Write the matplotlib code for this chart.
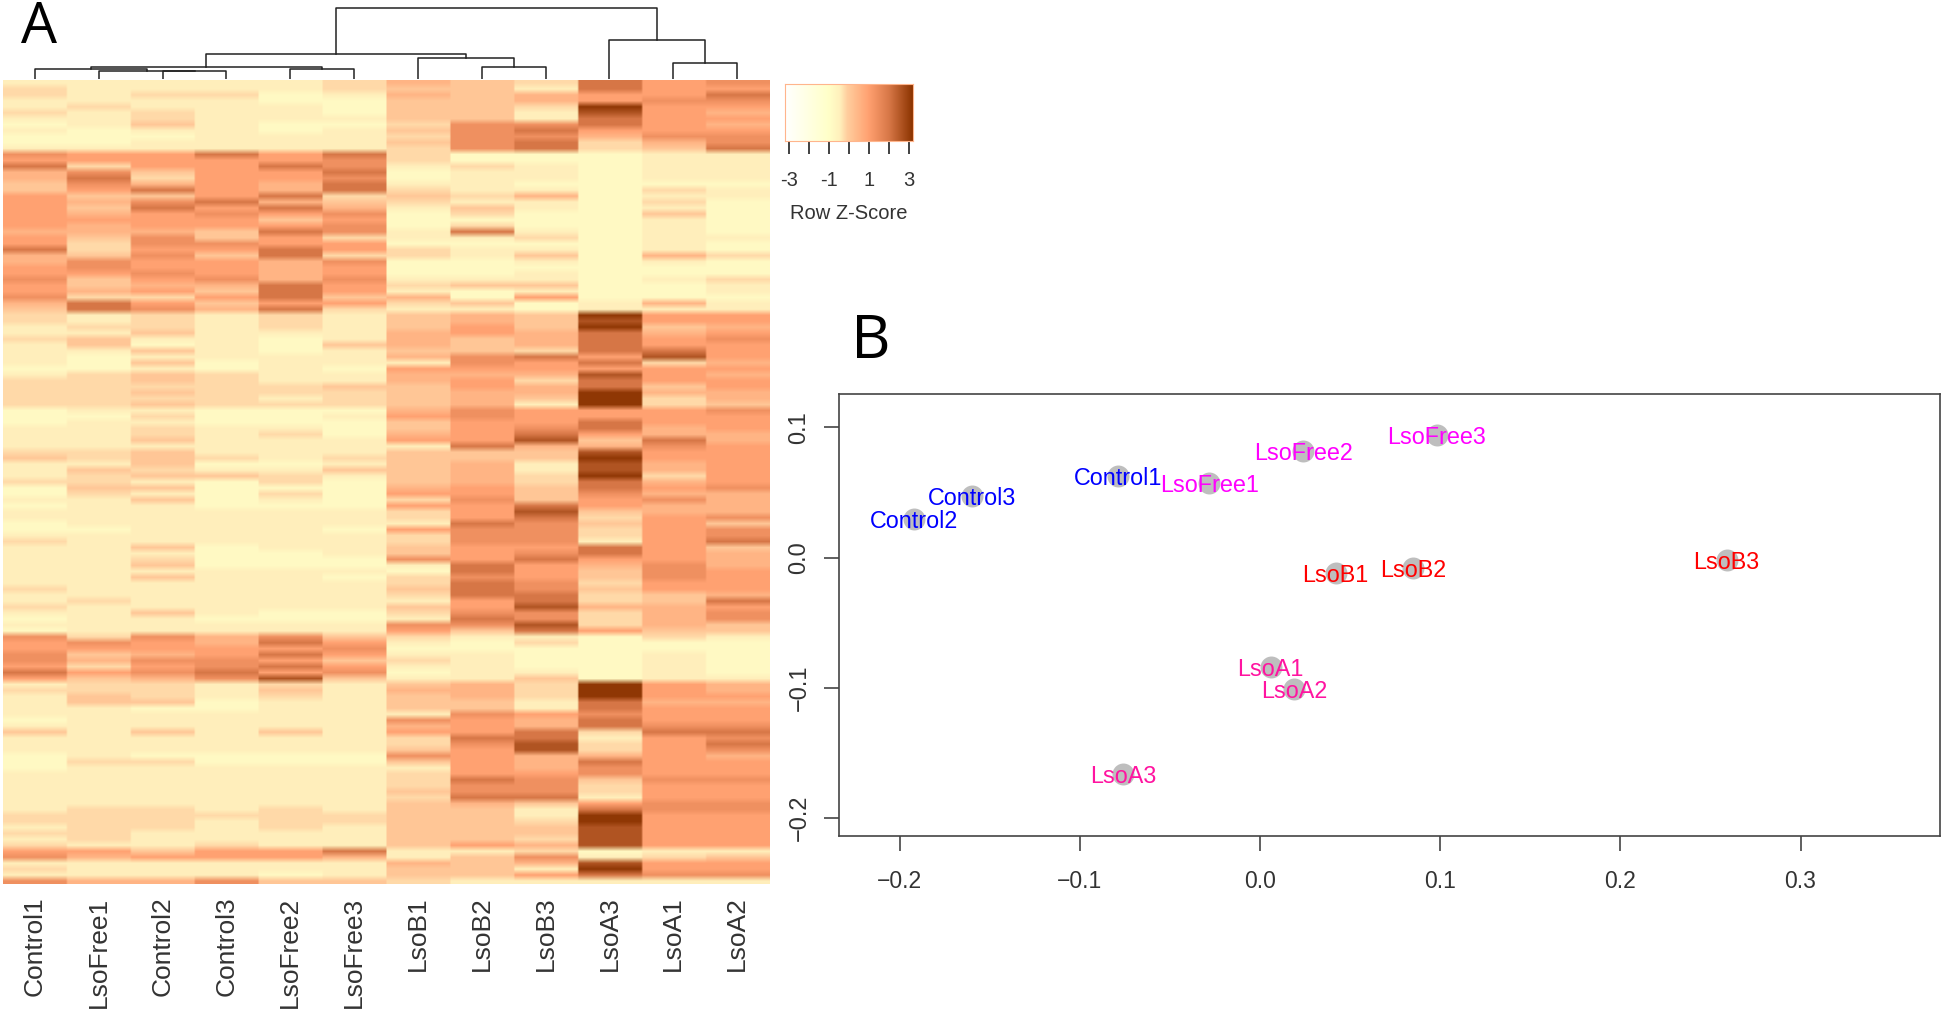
import numpy as np
import matplotlib
matplotlib.use('Agg')
import matplotlib.pyplot as plt
from matplotlib.colors import LinearSegmentedColormap

plt.rcParams['font.family'] = ['Liberation Sans', 'DejaVu Sans']

W, H = 1944, 1014

#heatmap columns, as they are ordered in the figure
samples = ['Control1', 'LsoFree1', 'Control2', 'Control3', 'LsoFree2', 'LsoFree3',
           'LsoB1', 'LsoB2', 'LsoB3', 'LsoA3', 'LsoA1', 'LsoA2']

#z-score for each shade, rows below give the shade per sample
shade_z = [-0.8, -0.45, -0.22, 0.08, 0.5, 0.95, 1.4, 2.0, 2.6, 3.1]
heat_rows = [
    '111112 432756', '211112 331755', '212201 434557', '111100 334566', '121110 332955',
    '212110 331854', '112111 331755', '013100 266754', '101101 367555', '000111 266466',
    '001111 367246', '111111 267237',
    '655757 200011', '555556 200011', '725576 121011', '463557 011011', '472556 011011',
    '364547 110000', '357547 211021', '533572 324011', '546743 211020', '537574 131010',
    '545656 020030', '555535 000010', '545556 020010', '444376 171010', '536352 112011',
    '526655 000010', '725575 211010', '436372 213042', '465546 001010', '565545 000000',
    '556545 001000', '635646 111012', '534475 233001', '545375 101001', '622573 405000',
    '475355 230141', '376472 110111',
    '212121 343955', '212121 343855', '122121 353934', '113111 454745', '231101 434756',
    '130103 434755', '113101 332775', '101111 467585', '103011 165724', '001010 555555',
    '123211 444854', '223211 452755', '222223 354735', '223222 344944', '222212 343924',
    '223222 341923', '011000 465556', '002001 565555', '011000 355755', '112110 356745',
    '112120 457544', '113111 558374', '111111 174465', '223111 333855', '323212 333955',
    '113001 341845', '132113 341845', '123321 342925', '221020 342745', '033000 453756',
    '021020 553644', '113010 263564', '011000 557544', '111111 258344', '111111 257256',
    '011111 176353', '001110 566256', '111111 266256', '211111 266157', '113011 355753',
    '111001 356754', '112000 657554',
    '113000 175464', '111111 075365', '113110 265365', '111111 276255', '211111 376355',
    '111111 277234', '121111 157237', '211111 358445', '113100 266246', '011000 176246',
    '111111 668243', '011111 537533',
    '626463 211021', '565475 102000', '555556 000000', '634575 110010', '646653 210010',
    '525675 110010', '756756 011010', '534683 113011',
    '122121 342954', '222131 442954', '132121 342955', '133011 331744', '110011 331755',
    '111111 165655', '011111 654755',
    '111111 454766', '313131 557277', '111111 277156', '111111 268257', '111111 358256',
    '010000 654454', '022000 354755', '011111 154655', '111111 255655', '111111 276366',
    '111111 266255', '111111 366255', '111111 277155', '111111 343566', '122121 331766',
    '222222 331955', '222122 332955', '122121 333855', '221111 333855', '121111 332855',
    '211211 354855',
    '553557 112011', '645554 136123', '111111 434855', '211111 331955', '111101 335766',
    '644633 211111',
]

#dendrogram, written like hclust: negative = column number, positive = earlier merge
merge_left = [-3, -2, -1, -5, 3, -8, -7, 5, -11, -10, 8]
merge_right = [-4, 1, 2, -6, 4, -9, 6, 7, -12, 9, 10]
merge_height = [7.7, 8.3, 10.0, 10.3, 12.3, 12.0, 21.0, 25.0, 16.0, 39.0, 71.0]
leaf_height = 0.5

#colour key
key_z = [-3.2, -1.0, -0.45, -0.1, 1.0, 2.0, 3.2]
key_colors = ['#FFFFFF', '#FFFFC8', '#FFF0BC', '#FFCF9F', '#FFA070', '#D87848', '#8B3300']
key_ticks = [-3, -2, -1, 0, 1, 2, 3]
key_labels = ['-3', '', '-1', '', '1', '', '3']

#MDS plot
mds_names = ['Control1', 'Control2', 'Control3', 'LsoFree1', 'LsoFree2', 'LsoFree3',
             'LsoB1', 'LsoB2', 'LsoB3', 'LsoA1', 'LsoA2', 'LsoA3']
mds_x = [-0.079, -0.192, -0.160, -0.028, 0.024, 0.098, 0.042, 0.085, 0.259, 0.006, 0.019, -0.076]
mds_y = [0.063, 0.030, 0.047, 0.057, 0.082, 0.094, -0.012, -0.008, -0.002, -0.084, -0.101, -0.166]
mds_colors = ['#0000FF'] * 3 + ['#FF00FF'] * 3 + ['#FF0000'] * 3 + ['#FF14A0'] * 3
mds_xticks = [-0.2, -0.1, 0.0, 0.1, 0.2, 0.3]
mds_yticks = [-0.2, -0.1, 0.0, 0.1]

ink = '#333333'


def box(x0, y0, x1, y1):
    #axes rectangle from pixel corners, y measured from the top
    return [x0 / W, 1 - y1 / H, (x1 - x0) / W, (y1 - y0) / H]


fig = plt.figure(figsize=(W / 100, H / 100), dpi=100)

key_cmap = LinearSegmentedColormap.from_list(
    'key', [((z - key_z[0]) / (key_z[-1] - key_z[0]), c) for z, c in zip(key_z, key_colors)])

#heatmap, columns repeated so the smoothing only softens the rows
values = np.array([[shade_z[int(c)] for c in row.replace(' ', '')] for row in heat_rows])
ax = fig.add_axes(box(3, 80, 769, 884))
ax.imshow(np.repeat(values, 32, axis=1), cmap=key_cmap, vmin=key_z[0], vmax=key_z[-1], aspect='auto',
          interpolation='bilinear', extent=[-0.5, len(samples) - 0.5, len(heat_rows) - 0.5, -0.5])
ax.set_xticks(range(len(samples)))
ax.set_xticklabels(samples, rotation=90, fontsize=19, color=ink)
ax.set_yticks([])
ax.tick_params(axis='x', length=0, pad=9)
for s in ax.spines.values():
    s.set_visible(False)

#dendrogram
dend = fig.add_axes(box(3, 0, 769, 79))
nodes = []
for left, right, height in zip(merge_left, merge_right, merge_height):
    xs, ys = [], []
    for k in (left, right):
        if k < 0:
            xs.append(-k - 1)
            ys.append(leaf_height)
        else:
            xs.append(nodes[k - 1][0])
            ys.append(nodes[k - 1][1])
    dend.plot([xs[0], xs[0], xs[1], xs[1]], [ys[0], height, height, ys[1]], color='#222222', lw=1.1)
    nodes.append(((xs[0] + xs[1]) / 2, height))
dend.set_xlim(-0.5, len(samples) - 0.5)
dend.set_ylim(0, 79)
dend.axis('off')

#colour key
cb = fig.add_axes(box(785, 84, 913, 141))
cb.imshow(np.linspace(key_z[0], key_z[-1], 256)[None, :], cmap=key_cmap, aspect='auto',
          extent=[key_z[0], key_z[-1], 0, 1])
cb.set_yticks([])
cb.set_xticks(key_ticks)
cb.set_xticklabels(key_labels, fontsize=14.5, color=ink)
cb.tick_params(axis='x', length=9.5, width=1.3, color='#333333', pad=12)
cb.set_xlabel('Row Z-Score', fontsize=14.5, color=ink, labelpad=10)
for s in cb.spines.values():
    s.set_color('#FFB58C')
    s.set_linewidth(0.8)

#MDS panel
mds = fig.add_axes(box(839, 394, 1940, 836))
mds.scatter(mds_x, mds_y, s=250, color='#BEBEBE', linewidths=0, zorder=2)
for name, x, y, col in zip(mds_names, mds_x, mds_y, mds_colors):
    mds.text(x, y, name, color=col, fontsize=16.8, ha='center', va='center_baseline', zorder=3)
mds.set_xlim(-0.2336, 0.3774)
mds.set_ylim(-0.2137, 0.1257)
mds.set_xticks(mds_xticks)
mds.set_xticklabels(['\u22120.2', '\u22120.1', '0.0', '0.1', '0.2', '0.3'], fontsize=16.5, color=ink)
mds.set_yticks(mds_yticks)
mds.set_yticklabels(['\u22120.2', '\u22120.1', '0.0', '0.1'], fontsize=17, color=ink,
                    rotation=90, va='center')
mds.tick_params(axis='both', length=10.5, width=1.2, color='#444444')
mds.tick_params(axis='x', pad=14)
mds.tick_params(axis='y', pad=10)
for s in mds.spines.values():
    s.set_color('#444444')
    s.set_linewidth(1.2)

#panel letters
fig.text(21 / W, 1 - 43 / H, 'A', fontsize=41, family='Open Sans', color='black', va='baseline')
fig.text(850.5 / W, 1 - 358 / H, 'B', fontsize=44, family='Open Sans', color='black', va='baseline')

fig.savefig('out.png', dpi=100)
